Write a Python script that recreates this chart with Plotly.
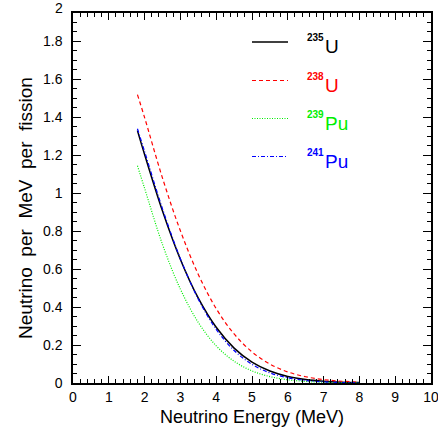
import plotly.graph_objects as go

# Data (neutrino spectra per fission)
energy = [1.8, 2.0, 2.5, 3.0, 3.5, 4.0, 4.5, 5.0, 5.5, 6.0, 6.5, 7.0, 7.5, 8.0]
u235 = [1.330, 1.204, 0.906, 0.651, 0.447, 0.2935, 0.184, 0.110, 0.0631, 0.0345, 0.0181, 0.0090, 0.0043, 0.0020]
u238 = [1.520, 1.399, 1.080, 0.802, 0.572, 0.392, 0.2585, 0.1638, 0.0998, 0.0584, 0.0329, 0.0178, 0.0093, 0.0046]
pu239 = [1.145, 1.026, 0.730, 0.4946, 0.319, 0.196, 0.1146, 0.0638, 0.0338, 0.0171, 0.0082, 0.0038, 0.0016, 0.0007]
pu241 = [1.340, 1.220, 0.918, 0.6548, 0.4421, 0.2828, 0.1713, 0.0983, 0.0534, 0.0275, 0.0134, 0.0062, 0.0027, 0.0011]

series = [
    ("235", "U", u235, "#000000", "solid", 1.5),
    ("238", "U", u238, "#ff0000", "4px,3px", 1.2),
    ("239", "Pu", pu239, "#00ee00", "1px,1.5px", 1.2),
    ("241", "Pu", pu241, "#0000ff", "4px,2px,1px,2px", 1.2),
]

x_ticks = list(range(0, 11))
y_ticks = [0, 0.2, 0.4, 0.6, 0.8, 1, 1.2, 1.4, 1.6, 1.8]
y_top = 1.95

FONT = "Liberation Sans, Arial, Helvetica, sans-serif"

fig = go.Figure()
for mass, elem, vals, color, dash, w in series:
    fig.add_trace(go.Scatter(
        x=energy, y=vals, mode="lines", line_shape="spline",
        line=dict(color=color, dash=dash, width=w),
        name=mass + elem, showlegend=False,
    ))

W, H = 438, 434
ml, mr, mt, mb = 73, 7, 13, 51

fig.update_layout(
    width=W, height=H,
    margin=dict(l=ml, r=mr, t=mt, b=mb, autoexpand=False),
    paper_bgcolor="white", plot_bgcolor="white",
    font=dict(family=FONT, color="black", size=14),
)
axis_common = dict(
    showgrid=False, zeroline=False, showline=True, linecolor="black", linewidth=1.5,
    mirror="allticks", ticks="inside", tickcolor="black", tickwidth=1.2, automargin=False,
    ticklabeloverflow="allow",
    tickfont=dict(family=FONT, size=14, color="black"),
)
fig.update_xaxes(range=[0, 10], tickmode="array", tickvals=x_ticks, ticklen=7,
                 minor=dict(dtick=0.2, ticks="inside", ticklen=4, tickcolor="black", tickwidth=1),
                 **axis_common)
fig.update_yaxes(range=[0, y_top], tickmode="array", tickvals=y_ticks, ticklen=8,
                 minor=dict(dtick=0.05, ticks="inside", ticklen=4, tickcolor="black", tickwidth=1),
                 ticklabelstandoff=6, **axis_common)

# tick label "2" drawn above the frame top (as in the reference)
fig.add_annotation(text="2", xref="paper", yref="paper", x=0, y=2 / y_top,
                   xanchor="right", yanchor="middle", xshift=-9, yshift=-4, showarrow=False,
                   borderpad=0, font=dict(family=FONT, size=14, color="black"))

# axis titles
fig.add_annotation(text="Neutrino Energy (MeV)", xref="paper", yref="paper",
                   x=0.5, y=0, yshift=-34, xanchor="center", yanchor="middle",
                   showarrow=False, font=dict(family=FONT, size=18, color="black"))
fig.add_annotation(text="Neutrino  per  MeV  per  fission", xref="paper", yref="paper",
                   x=0, y=0.5, xshift=-48, yshift=-10, textangle=-90, xanchor="center", yanchor="middle",
                   showarrow=False, font=dict(family=FONT, size=19, color="black"))

# legend drawn manually
pw, ph = W - ml - mr, H - mt - mb
def px2paper(px, py):
    return (px - ml) / pw, 1 - (py - mt) / ph

leg_y = [42, 80.5, 118.5, 156.5]
for (mass, elem, vals, color, dash, w), py in zip(series, leg_y):
    x0, y0 = px2paper(252, py)
    x1, _ = px2paper(288, py)
    fig.add_shape(type="line", xref="paper", yref="paper", x0=x0, x1=x1, y0=y0, y1=y0,
                  line=dict(color=color, dash=dash, width=w))
    tx, ty = px2paper(305, py + 5)
    fig.add_annotation(text="<b>" + mass + "</b>", xref="paper", yref="paper", x=tx, y=ty,
                       yshift=9, xanchor="left", yanchor="middle", showarrow=False,
                       font=dict(family=FONT, size=10, color=color))
    tx2, _ = px2paper(323, py)
    fig.add_annotation(text=elem, xref="paper", yref="paper", x=tx2, y=ty,
                       xanchor="left", yanchor="middle", showarrow=False,
                       font=dict(family=FONT, size=19, color=color))

fig.write_html("out.html", config={"displayModeBar": False},
               post_script="document.body.style.margin='0';document.body.style.overflow='hidden';")
